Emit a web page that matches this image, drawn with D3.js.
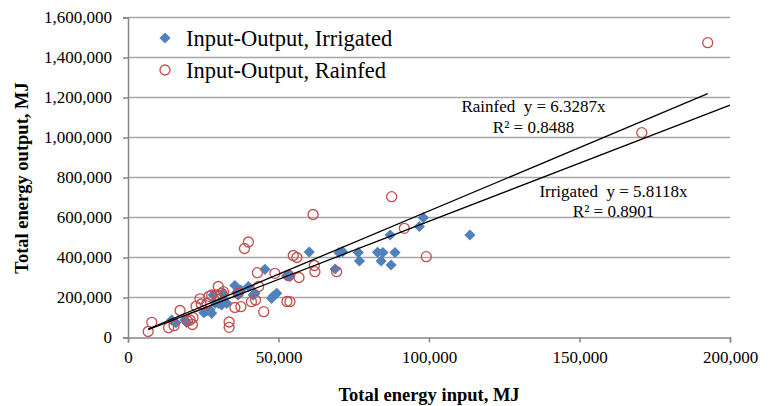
<!DOCTYPE html>
<html lang="en">
<head>
  <meta charset="UTF-8" />
  <title>Energy input vs output</title>
  <script src="https://cdn.jsdelivr.net/npm/d3@7"></script>
  <style>
    body { margin: 0; background: #fff; }
    svg { font-family: "Liberation Serif", "Times New Roman", serif; }
    .axis-title { font-size: 18.5px; font-weight: bold; }
    .eq { font-size: 17px; white-space: pre; }
  </style>
</head>
<body>
<svg width="770" height="406"></svg>
<script>
  // Irrigated: [input MJ, output MJ]
  const irrigated = [
    [14500, 87500], [15900, 74000], [18900, 87500], [19500, 75000], [25200, 124000],
    [26100, 132500], [27200, 137500], [27800, 121000], [28300, 212500], [28900, 171000],
    [30000, 171000], [31100, 162500], [31700, 216000], [32800, 171000], [31700, 187500],
    [35500, 260000], [36100, 224000], [36600, 212500], [37500, 237500], [40000, 255000],
    [41600, 212500], [42200, 221000], [45500, 341000], [47700, 196000], [48300, 207500],
    [49400, 221000], [53500, 315000], [53800, 304000], [52700, 307500], [60200, 427500],
    [68800, 342500], [70100, 424000], [71300, 429000], [76500, 425000], [76900, 382500],
    [82900, 426000], [84700, 425000], [84100, 382500], [88700, 425000], [87400, 362500],
    [87100, 512500], [96800, 555000], [98100, 599000], [113600, 512500]
  ];

  // Rainfed: [input MJ, output MJ]
  const rainfed = [
    [6700, 30000], [7900, 76000], [13500, 49000], [15300, 59000], [17300, 135000],
    [19800, 82500], [20600, 87500], [21400, 65000], [21600, 100000], [22600, 156000],
    [23900, 193500], [24300, 167500], [26200, 170000], [26900, 206000], [27800, 212500],
    [29500, 212500], [30000, 255000], [31100, 221000], [31700, 229000], [33600, 77500],
    [33600, 51000], [35500, 150000], [36600, 222500], [37500, 154000], [38700, 445000],
    [40000, 477500], [41000, 179000], [42400, 187500], [43000, 324000], [43400, 255000],
    [45100, 129000], [48800, 321000], [52800, 180000], [53800, 179000], [54900, 410000],
    [56100, 400000], [56800, 300000], [53400, 310000], [61500, 615000], [61900, 360000],
    [62100, 329000], [69300, 329000], [87600, 704000], [91800, 546000], [99100, 404000],
    [170700, 1024000], [192600, 1474000]
  ];

  const xTicks = [0, 50000, 100000, 150000, 200000];
  const yTicks = [0, 200000, 400000, 600000, 800000, 1000000, 1200000, 1400000, 1600000];

  // trendlines through origin: slope, x range drawn
  const trends = [
    { name: "Rainfed", slope: 6.3287, r2: "0.8488", from: 6700, to: 192600 },
    { name: "Irrigated", slope: 5.8118, r2: "0.8901", from: 6700, to: 200000 }
  ];

  const svg = d3.select("svg");
  const x = d3.scaleLinear().domain([0, 200000]).range([128, 730]);
  const y = d3.scaleLinear().domain([0, 1600000]).range([337.5, 17.5]);
  const fmt = d3.format(",");
  const serif = '"Liberation Serif", "Times New Roman", serif';

  // gridlines
  svg.append("g")
    .selectAll("line")
    .data(yTicks.slice(1))
    .join("line")
    .attr("x1", x(0)).attr("x2", x(200000))
    .attr("y1", d => y(d)).attr("y2", d => y(d))
    .attr("stroke", "#a6a6a6")
    .attr("stroke-width", 1.5);

  const yAxis = svg.append("g")
    .attr("transform", `translate(${x(0)},0)`)
    .call(d3.axisLeft(y).tickValues(yTicks).tickFormat(fmt).tickSize(5).tickPadding(11));
  const xAxis = svg.append("g")
    .attr("transform", `translate(0,${y(0)})`)
    .call(d3.axisBottom(x).tickValues(xTicks).tickFormat(fmt).tickSize(5).tickPadding(8));
  [xAxis, yAxis].forEach(a => {
    a.attr("font-family", serif).attr("font-size", 17);
    a.select(".domain").attr("stroke", "#868686").attr("stroke-width", 1.5);
    a.selectAll(".tick line").attr("stroke", "#868686").attr("stroke-width", 1.5);
    a.selectAll(".tick text").attr("fill", "#000")
      .style("font-family", serif).style("font-size", "17px");
  });

  // points
  const diamond = d3.symbol().type(d3.symbolDiamond2).size(80);
  svg.append("g")
    .selectAll("path")
    .data(irrigated)
    .join("path")
    .attr("d", diamond)
    .attr("transform", d => `translate(${x(d[0])},${y(d[1])})`)
    .attr("fill", "#4f81bd");

  svg.append("g")
    .selectAll("circle")
    .data(rainfed)
    .join("circle")
    .attr("cx", d => x(d[0]))
    .attr("cy", d => y(d[1]))
    .attr("r", 5)
    .attr("fill", "none")
    .attr("stroke", "#c0504d")
    .attr("stroke-width", 1.3);

  // trendlines
  svg.append("g")
    .selectAll("line")
    .data(trends)
    .join("line")
    .attr("x1", d => x(d.from)).attr("y1", d => y(d.from * d.slope))
    .attr("x2", d => x(d.to)).attr("y2", d => y(d.to * d.slope))
    .attr("stroke", "#000")
    .attr("stroke-width", 1.3);

  // equation labels, centred
  const eqPos = { Rainfed: [533.5, 112], Irrigated: [613.5, 196.5] };
  trends.forEach(t => {
    const [cx, base] = eqPos[t.name];
    svg.append("text").attr("class", "eq").attr("text-anchor", "middle")
      .attr("x", cx).attr("y", base).text(`${t.name}  y = ${t.slope}x`);
    svg.append("text").attr("class", "eq").attr("text-anchor", "middle")
      .attr("x", cx).attr("y", base + 20.5).text(`R² = ${t.r2}`);
  });

  // legend
  const legend = svg.append("g").attr("transform", "translate(165,0)");
  legend.append("path").attr("d", diamond).attr("transform", "translate(0,38)").attr("fill", "#4f81bd");
  legend.append("circle").attr("cx", 0).attr("cy", 70).attr("r", 5)
    .attr("fill", "none").attr("stroke", "#c0504d").attr("stroke-width", 1.3);
  legend.append("text").attr("x", 21).attr("y", 46).attr("font-size", 22.5).text("Input-Output, Irrigated");
  legend.append("text").attr("x", 21).attr("y", 78).attr("font-size", 22.5).text("Input-Output, Rainfed");

  // axis titles
  svg.append("text").attr("class", "axis-title").attr("text-anchor", "middle")
    .attr("x", 429).attr("y", 401).text("Total energy input, MJ");
  svg.append("text").attr("class", "axis-title").attr("text-anchor", "middle")
    .attr("transform", "translate(28,178) rotate(-90)").text("Total energy output, MJ");
</script>
</body>
</html>
